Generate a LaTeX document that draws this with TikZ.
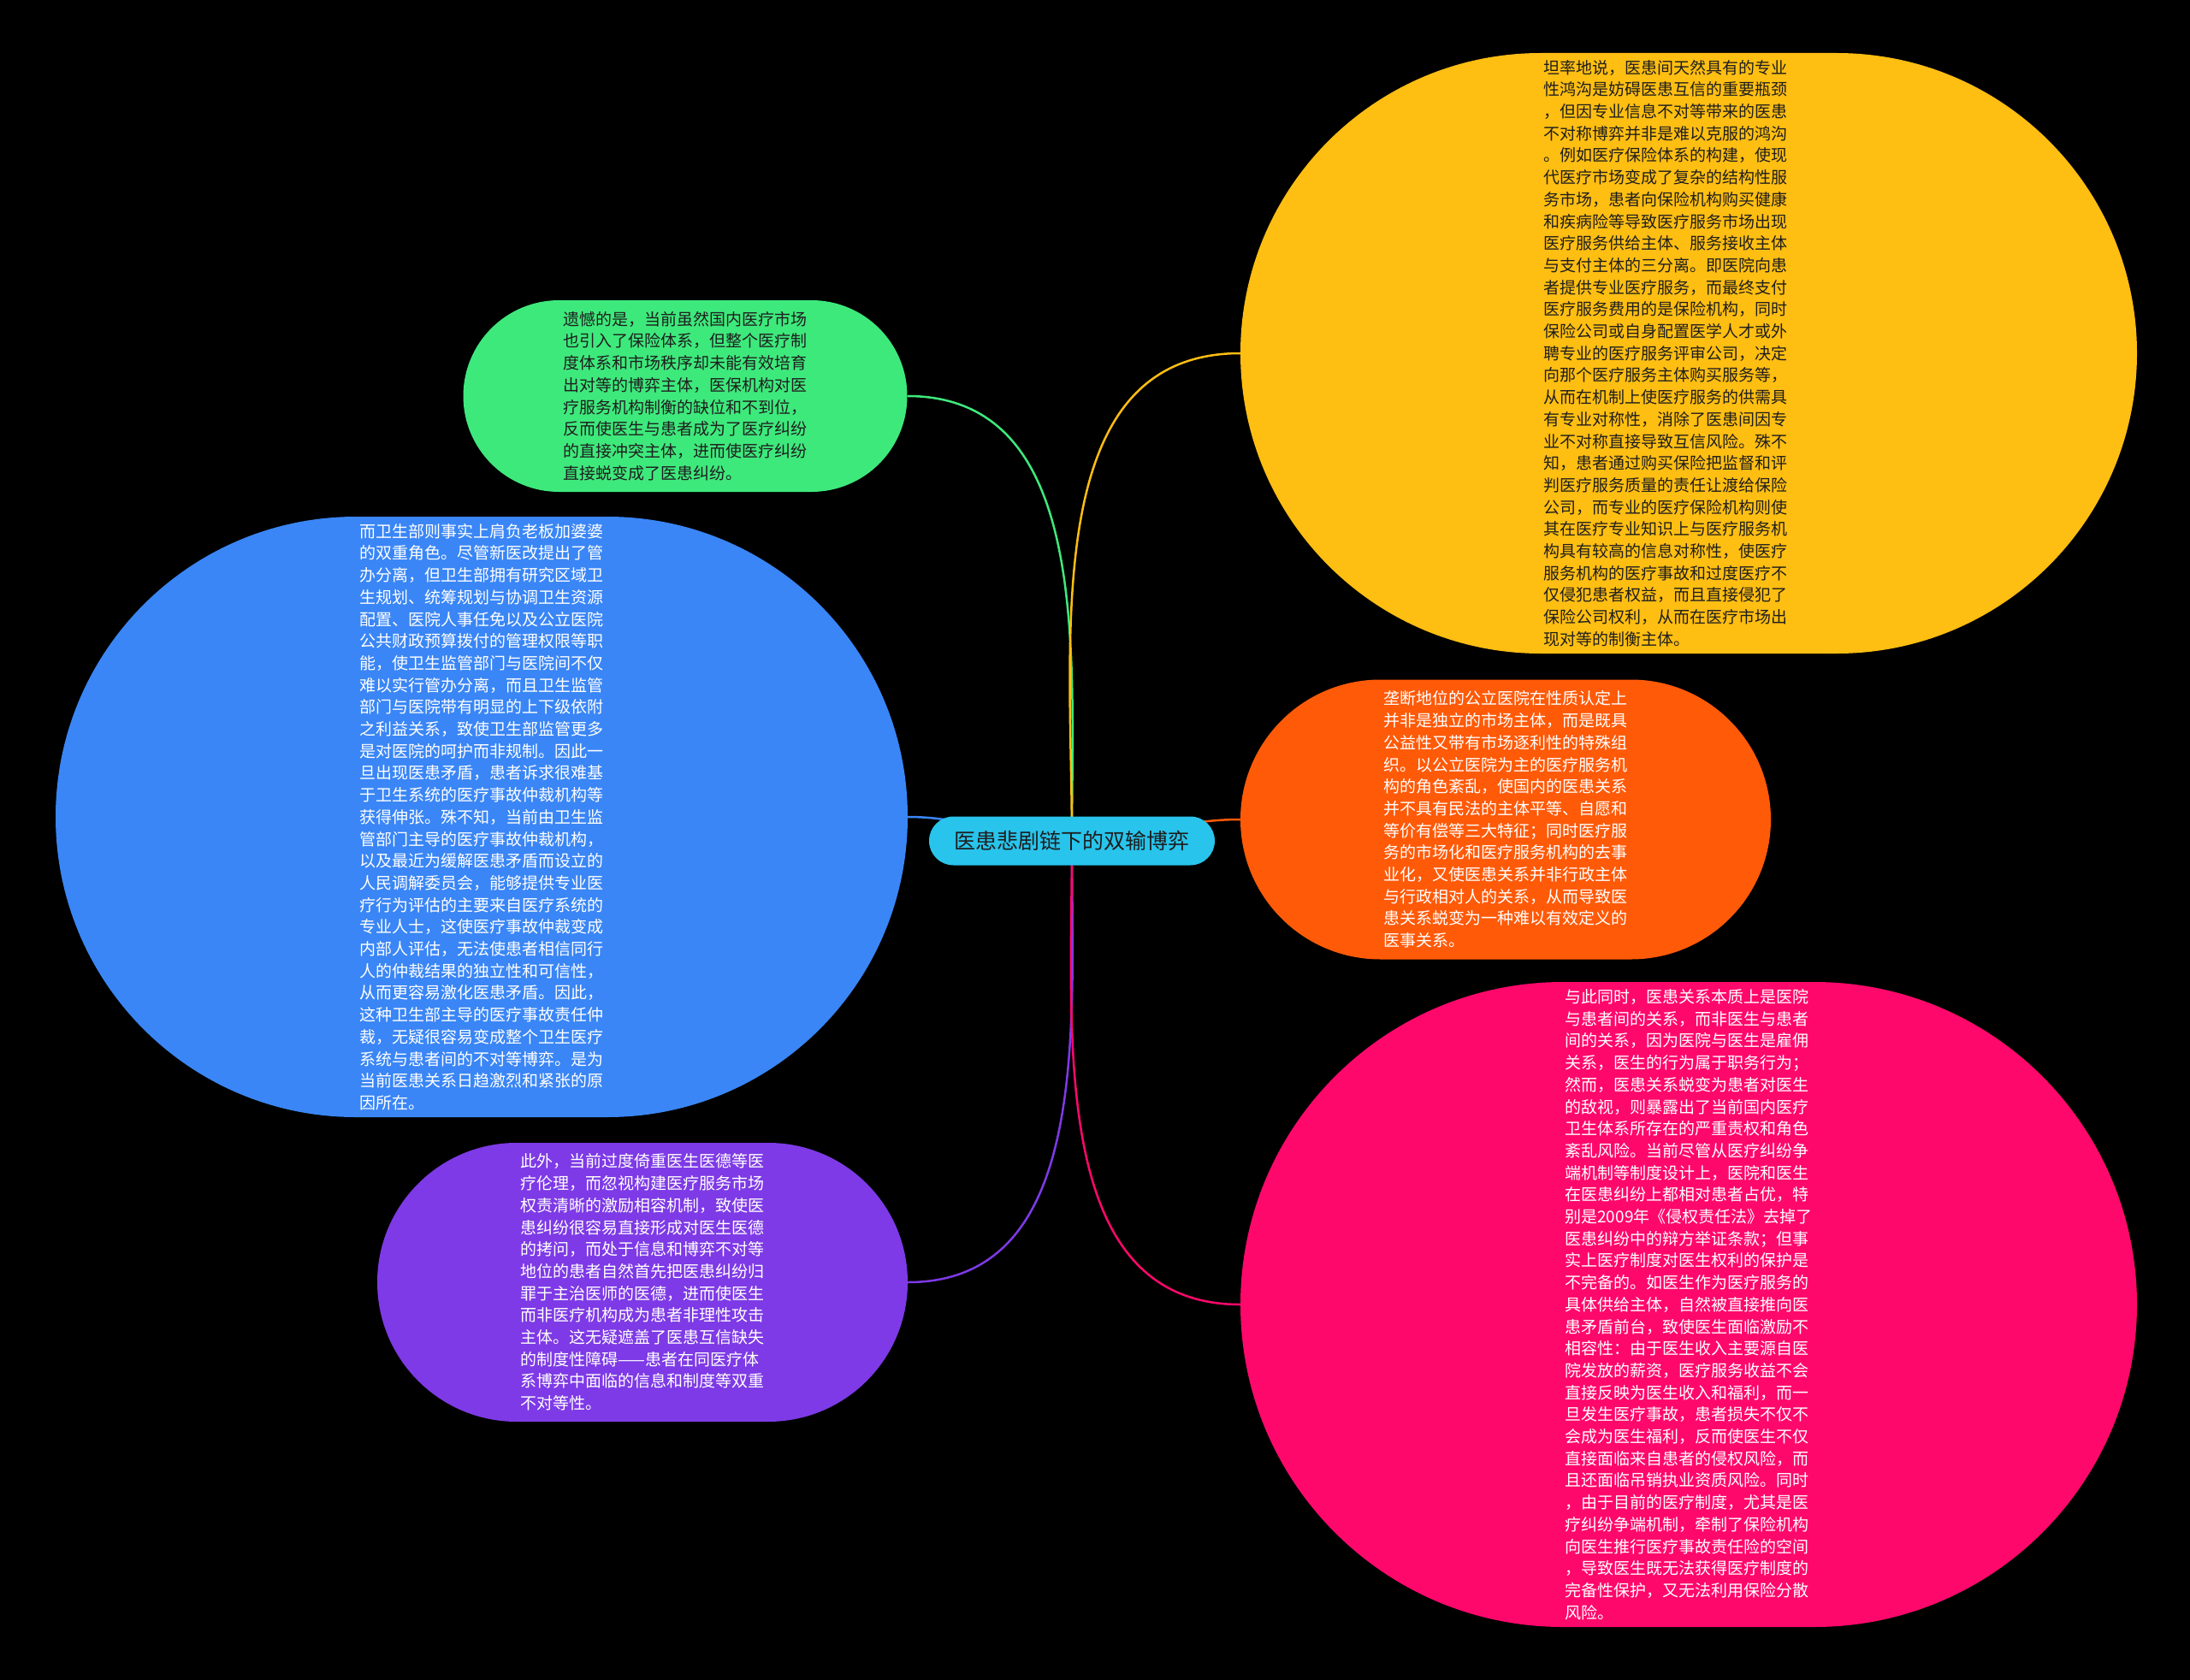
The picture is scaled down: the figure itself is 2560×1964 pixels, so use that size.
\documentclass[tikz,border=0pt]{standalone}
\usepackage{fontspec}
\newfontfamily\cjk{Noto Sans CJK SC}
\usetikzlibrary{shapes.misc}
\pgfdeclarelayer{bg}
\pgfdeclarelayer{lines}
\pgfsetlayers{bg,lines,main}
\definecolor{cgreen}{RGB}{62,233,124}
\definecolor{cblue}{RGB}{58,134,246}
\definecolor{cpurple}{RGB}{126,58,230}
\definecolor{cyellow}{RGB}{255,190,18}
\definecolor{corange}{RGB}{255,90,8}
\definecolor{cpink}{RGB}{255,8,108}
\definecolor{ccyan}{RGB}{40,196,236}
\definecolor{darktext}{RGB}{30,30,30}
\begin{document}
\begin{tikzpicture}[x=1pt,y=-1pt,
  blob/.style={rounded rectangle, inner sep=0pt, align=left,
    font={\cjk\fontsize{19}{25.7}\selectfont}},
  topic/.style={rounded rectangle, inner sep=0pt, fill=ccyan, text=darktext,
    minimum width=334pt, minimum height=57pt,
    font={\cjk\fontsize{25}{30}\selectfont}},
  link/.style={line width=2.5pt},
]
\begin{pgfonlayer}{bg}
\fill[black] (0,0) rectangle (2560,1964);
\end{pgfonlayer}
\useasboundingbox (0,0) rectangle (2560,1964);

\node[topic] (c) at (1253,983) {医患悲剧链下的双输博弈};

\node[blob, fill=cgreen, text=darktext, minimum width=519pt, minimum height=224pt] (g) at (801,463) {%
遗憾的是，当前虽然国内医疗市场\\
也引入了保险体系，但整个医疗制\\
度体系和市场秩序却未能有效培育\\
出对等的博弈主体，医保机构对医\\
疗服务机构制衡的缺位和不到位，\\
反而使医生与患者成为了医疗纠纷\\
的直接冲突主体，进而使医疗纠纷\\
直接蜕变成了医患纠纷。};

\node[blob, fill=cblue, text=white, minimum width=996pt, minimum height=702pt] (b) at (563,955) {%
而卫生部则事实上肩负老板加婆婆\\
的双重角色。尽管新医改提出了管\\
办分离，但卫生部拥有研究区域卫\\
生规划、统筹规划与协调卫生资源\\
配置、医院人事任免以及公立医院\\
公共财政预算拨付的管理权限等职\\
能，使卫生监管部门与医院间不仅\\
难以实行管办分离，而且卫生监管\\
部门与医院带有明显的上下级依附\\
之利益关系，致使卫生部监管更多\\
是对医院的呵护而非规制。因此一\\
旦出现医患矛盾，患者诉求很难基\\
于卫生系统的医疗事故仲裁机构等\\
获得伸张。殊不知，当前由卫生监\\
管部门主导的医疗事故仲裁机构，\\
以及最近为缓解医患矛盾而设立的\\
人民调解委员会，能够提供专业医\\
疗行为评估的主要来自医疗系统的\\
专业人士，这使医疗事故仲裁变成\\
内部人评估，无法使患者相信同行\\
人的仲裁结果的独立性和可信性，\\
从而更容易激化医患矛盾。因此，\\
这种卫生部主导的医疗事故责任仲\\
裁，无疑很容易变成整个卫生医疗\\
系统与患者间的不对等博弈。是为\\
当前医患关系日趋激烈和紧张的原\\
因所在。};

\node[blob, fill=cpurple, text=white, minimum width=620pt, minimum height=326pt] (pu) at (751,1499) {%
此外，当前过度倚重医生医德等医\\
疗伦理，而忽视构建医疗服务市场\\
权责清晰的激励相容机制，致使医\\
患纠纷很容易直接形成对医生医德\\
的拷问，而处于信息和博弈不对等\\
地位的患者自然首先把医患纠纷归\\
罪于主治医师的医德，进而使医生\\
而非医疗机构成为患者非理性攻击\\
主体。这无疑遮盖了医患互信缺失\\
的制度性障碍——患者在同医疗体\\
系博弈中面临的信息和制度等双重\\
不对等性。};

\node[blob, fill=cyellow, text=darktext, text width=340pt, minimum width=1048pt, minimum height=702pt] (y) at (1974,413) {%
坦率地说，医患间天然具有的专业\\
性鸿沟是妨碍医患互信的重要瓶颈\\
，但因专业信息不对等带来的医患\\
不对称博弈并非是难以克服的鸿沟\\
。例如医疗保险体系的构建，使现\\
代医疗市场变成了复杂的结构性服\\
务市场，患者向保险机构购买健康\\
和疾病险等导致医疗服务市场出现\\
医疗服务供给主体、服务接收主体\\
与支付主体的三分离。即医院向患\\
者提供专业医疗服务，而最终支付\\
医疗服务费用的是保险机构，同时\\
保险公司或自身配置医学人才或外\\
聘专业的医疗服务评审公司，决定\\
向那个医疗服务主体购买服务等，\\
从而在机制上使医疗服务的供需具\\
有专业对称性，消除了医患间因专\\
业不对称直接导致互信风险。殊不\\
知，患者通过购买保险把监督和评\\
判医疗服务质量的责任让渡给保险\\
公司，而专业的医疗保险机构则使\\
其在医疗专业知识上与医疗服务机\\
构具有较高的信息对称性，使医疗\\
服务机构的医疗事故和过度医疗不\\
仅侵犯患者权益，而且直接侵犯了\\
保险公司权利，从而在医疗市场出\\
现对等的制衡主体。};

\node[blob, fill=corange, text=white, minimum width=620pt, minimum height=327pt] (o) at (1760,958) {%
垄断地位的公立医院在性质认定上\\
并非是独立的市场主体，而是既具\\
公益性又带有市场逐利性的特殊组\\
织。以公立医院为主的医疗服务机\\
构的角色紊乱，使国内的医患关系\\
并不具有民法的主体平等、自愿和\\
等价有偿等三大特征；同时医疗服\\
务的市场化和医疗服务机构的去事\\
业化，又使医患关系并非行政主体\\
与行政相对人的关系，从而导致医\\
患关系蜕变为一种难以有效定义的\\
医事关系。};

\node[blob, fill=cpink, text=white, minimum width=1048pt, minimum height=754pt] (p) at (1974,1525) {%
与此同时，医患关系本质上是医院\\
与患者间的关系，而非医生与患者\\
间的关系，因为医院与医生是雇佣\\
关系，医生的行为属于职务行为；\\
然而，医患关系蜕变为患者对医生\\
的敌视，则暴露出了当前国内医疗\\
卫生体系所存在的严重责权和角色\\
紊乱风险。当前尽管从医疗纠纷争\\
端机制等制度设计上，医院和医生\\
在医患纠纷上都相对患者占优，特\\
别是2009年《侵权责任法》去掉了\\
医患纠纷中的辩方举证条款；但事\\
实上医疗制度对医生权利的保护是\\
不完备的。如医生作为医疗服务的\\
具体供给主体，自然被直接推向医\\
患矛盾前台，致使医生面临激励不\\
相容性：由于医生收入主要源自医\\
院发放的薪资，医疗服务收益不会\\
直接反映为医生收入和福利，而一\\
旦发生医疗事故，患者损失不仅不\\
会成为医生福利，反而使医生不仅\\
直接面临来自患者的侵权风险，而\\
且还面临吊销执业资质风险。同时\\
，由于目前的医疗制度，尤其是医\\
疗纠纷争端机制，牵制了保险机构\\
向医生推行医疗事故责任险的空间\\
，导致医生既无法获得医疗制度的\\
完备性保护，又无法利用保险分散\\
风险。};

\begin{pgfonlayer}{lines}
\draw[link, cgreen] (c.center) to[out=90, in=0] (g.east);
\draw[link, cblue] (c.center) to[out=180, in=0] (b.east);
\draw[link, cpurple] (c.center) to[out=-90, in=0] (pu.east);
\draw[link, cyellow] (c.center) to[out=90, in=180] (y.west);
\draw[link, corange] (c.center) to[out=0, in=180] (o.west);
\draw[link, cpink] (c.center) to[out=-90, in=180] (p.west);
\end{pgfonlayer}
\end{tikzpicture}
\end{document}
